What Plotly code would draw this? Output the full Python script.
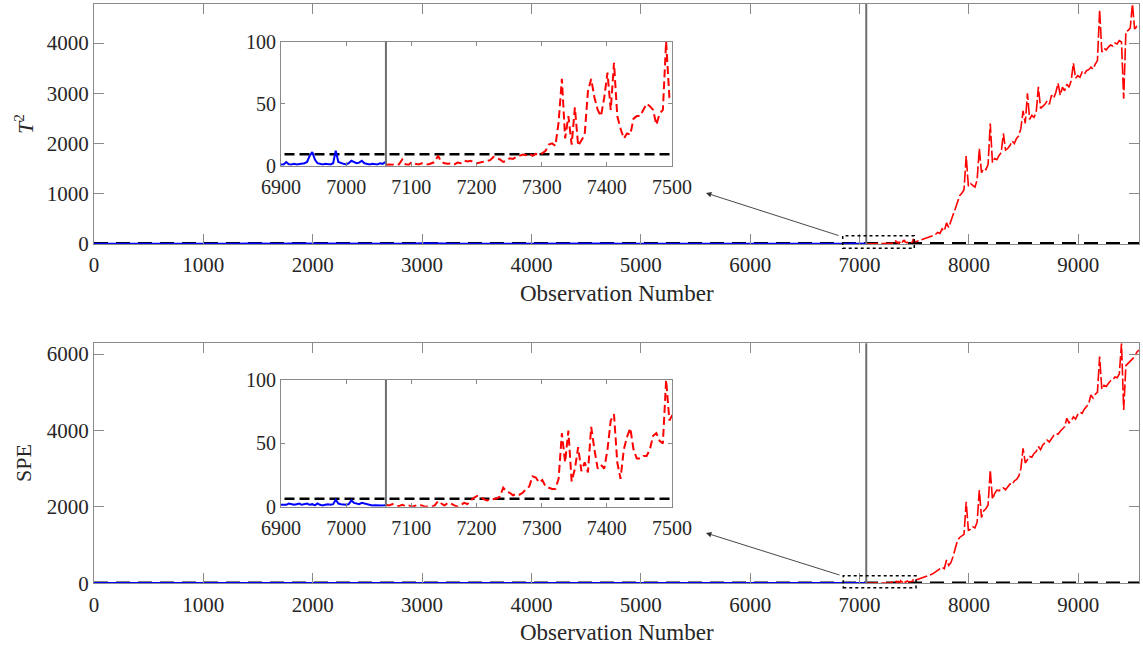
import plotly.graph_objects as go

W, H = 1143, 648

# ---------------- data ----------------
fault_start = 7061
x_max = 9555
t2_limit = 9.2
spe_limit = 6.3

# normal operation, coarse samples (0..6800 step 100)
normal_x_coarse = list(range(0, 6900, 100))
t2_normal_coarse = [2.1, 1.4, 3.2, 1.8, 0.9, 2.6, 4.1, 1.2, 1.7, 2.9,
                    1.1, 3.6, 2.2, 1.5, 6.8, 1.9, 2.4, 1.3, 3.1, 2.0,
                    1.6, 2.7, 1.0, 4.5, 1.8, 2.3, 1.4, 3.4, 2.8, 1.2,
                    9.6, 1.7, 2.5, 1.9, 3.0, 1.3, 2.2, 5.1, 1.6, 2.4,
                    1.1, 3.3, 2.0, 1.5, 2.8, 7.2, 1.8, 2.6, 1.4, 3.5,
                    2.1, 1.2, 2.9, 1.7, 4.0, 2.3, 1.5, 2.7, 1.9, 3.2,
                    1.3, 2.5, 6.1, 1.8, 2.2, 1.6, 3.0, 2.4, 1.4]
spe_normal_coarse = [1.8, 2.2, 1.5, 2.6, 1.2, 2.0, 3.1, 1.7, 2.4, 1.4,
                     2.1, 1.6, 4.2, 1.9, 2.3, 1.3, 2.8, 1.8, 2.0, 1.5,
                     2.5, 1.1, 1.9, 3.4, 2.2, 1.6, 2.7, 1.4, 2.0, 5.0,
                     1.7, 2.3, 1.5, 2.9, 1.8, 2.1, 1.3, 2.6, 1.9, 3.8,
                     1.6, 2.4, 1.2, 2.0, 2.7, 1.5, 2.2, 4.6, 1.8, 2.3,
                     1.4, 2.1, 2.8, 1.6, 1.9, 2.5, 1.3, 3.2, 2.0, 1.7,
                     2.4, 1.5, 2.2, 1.8, 3.6, 1.4, 2.1, 1.9, 1.6]

# normal operation, fine samples (6900..7060 step 4)
normal_x_fine = list(range(6900, 7061, 4))
t2_normal_fine = [1.5, 1, 3, 1.2, 1, 1.5, 1, 1.2, 1.5, 2,
                  3, 8, 11, 5, 2, 1.5, 1, 1.5, 1.2, 1,
                  2, 12, 3, 2, 1.5, 1, 2, 4, 3, 2,
                  2.5, 4, 2, 1.5, 1, 1.5, 1.2, 1, 2, 1.5,
                  3]
spe_normal_fine = [1.5, 2, 1.5, 2.5, 2, 1.5, 2, 2.5, 1.5, 2,
                   2.5, 1.5, 2, 1, 2.5, 1.5, 1, 1.5, 2, 1.5,
                   2, 5.5, 2.5, 2, 1.5, 1.5, 2, 5, 3, 2.5,
                   2, 3, 2.5, 1.5, 1.5, 1, 1.2, 1, 0.8, 1,
                   1.2]

# faulty operation, fine samples (7061..7496 step 5)
fault_x_fine = list(range(7061, 7497, 5))
t2_fault_fine = [0.5, 1, 0.8, 1.5, 1, 5, 1.2, 0.8, 3, 1.5,
                 1, 2, 1.5, 1, 2, 3, 8, 3, 2, 1.5,
                 2, 1, 2.5, 2, 4, 3.5, 4, 2.5, 2, 2.5,
                 3, 4, 4.5, 7, 6, 5, 3, 4, 6, 5.5,
                 7, 8, 9, 8.5, 10, 8, 9.5, 9,
                 10, 12, 17, 18, 16, 35, 70, 22, 40, 17,
                 47, 16, 20, 25, 60, 70, 55, 45, 40, 55,
                 75, 45, 83, 40, 30, 22, 26, 25, 38, 40,
                 40, 45, 50, 48, 45, 33, 42, 45, 100, 55]
spe_fault_fine = [1.5, 1, 2, 0.8, 0.5, 1.5, 0.5, 1, 0, 0.5,
                  1.5, 1, 0, 0.2, 0, 1, 4.5, 2.5, 1, 3,
                  2.5, 1, 0, 1.5, 3, 2, 5, 7, 8.5, 8,
                  6, 5, 5.5, 6, 6.5, 8, 15, 12, 11, 9,
                  10, 9.5, 11, 14, 16, 24, 23, 19, 21, 16,
                  15, 14, 14, 22, 58, 35, 60, 20, 30, 47,
                  28, 35, 27, 63, 45, 30, 33, 30, 45, 68,
                  73, 35, 22, 45, 55, 62, 45, 38, 38, 40,
                  40, 45, 56, 58, 52, 50, 100, 68]

# faulty operation, coarse samples (7515..9555 step 20)
fault_x_coarse = list(range(7515, 9556, 20))
t2_fault_coarse = [45, 60, 70, 85, 95, 110, 130, 150, 170, 190,
                   230, 210, 300, 260, 420, 330, 480, 580, 700, 840,
                   960, 1010, 1080, 1750, 1150, 1200, 1160, 1130, 1280, 1900,
                   1420, 1500, 1480, 1580, 2400, 1620, 1700, 1680, 1760, 1820,
                   2200, 1870, 1900, 1960, 2050, 2000, 2100, 2150, 2300, 2650,
                   2400, 3000, 2480, 2560, 2520, 2620, 3130, 2700, 2740, 2780,
                   2850, 2780, 2960, 2900, 3020, 3200, 2960, 3120, 3050, 3180,
                   3120, 3250, 3600, 3300, 3350, 3320, 3420, 3380, 3450, 3470,
                   3520, 3480, 3580, 3650, 4660, 3820, 3900, 3860, 3920, 3960,
                   3940, 4000, 3980, 4050, 4020, 2890, 4230, 4250, 4300, 4777,
                   4280, 4330, 4290]
spe_fault_coarse = [86, 100, 120, 135, 160, 175, 200, 230, 260, 300,
                    330, 360, 420, 380, 610, 470, 540, 700, 880, 1120,
                    1200, 1250, 1280, 2136, 1380, 1420, 1480, 1450, 1600, 2443,
                    1720, 1900, 1950, 2050, 2967, 2200, 2350, 2440, 2420, 2480,
                    2500, 2450, 2540, 2600, 2580, 2680, 2720, 2800, 3000, 3534,
                    3150, 3250, 3320, 3300, 3400, 3450, 3580, 3500, 3620, 3680,
                    3750, 3700, 3800, 3870, 3920, 3900, 3980, 4050, 4100, 4320,
                    4200, 4250, 4360, 4300, 4420, 4480, 4450, 4560, 4620, 4700,
                    4930, 4850, 4950, 5000, 5934, 5080, 5180, 5150, 5230, 5300,
                    5320, 5400, 5380, 5480, 6283, 4540, 5700, 5760, 5820, 5900,
                    5934, 6050, 6108]

main_xticks = [0, 1000, 2000, 3000, 4000, 5000, 6000, 7000, 8000, 9000]
t2_yticks = [0, 1000, 2000, 3000, 4000]
spe_yticks = [0, 2000, 4000, 6000]
inset_xticks = [6900, 7000, 7100, 7200, 7300, 7400, 7500]
inset_yticks = [0, 50, 100]
t2_ymax = 4777
spe_ymax = 6283

normal_x = normal_x_coarse + normal_x_fine
fault_x = fault_x_fine + fault_x_coarse
t2_normal = t2_normal_coarse + t2_normal_fine
spe_normal = spe_normal_coarse + spe_normal_fine
t2_fault = t2_fault_fine + t2_fault_coarse
spe_fault = spe_fault_fine + spe_fault_coarse

# ---------------- figure ----------------
BLUE = "#0000ff"
RED = "#ff0000"
AX = "#8a8a8a"
TXT = "#262626"
FONT = "Liberation Serif"

fig = go.Figure()


def add_panel(xa, ya, normal_vals, fault_vals, limit, inset):
    if inset:
        lim_line = dict(color="black", width=2.5, dash="10px,5px")
        blue_w, red_w, red_dash = 2, 2, "8px,4px"
    else:
        lim_line = dict(color="black", width=3, dash="14px,8px")
        blue_w, red_w, red_dash = 2.5, 1.6, "12px,3px"
    fig.add_trace(go.Scatter(x=[0, x_max], y=[limit, limit], mode="lines",
                             line=lim_line, xaxis=xa, yaxis=ya, hoverinfo="skip"))
    fig.add_trace(go.Scatter(x=normal_x, y=normal_vals, mode="lines",
                             line=dict(color=BLUE, width=blue_w), xaxis=xa, yaxis=ya))
    fig.add_trace(go.Scatter(x=fault_x, y=fault_vals, mode="lines",
                             line=dict(color=RED, width=red_w, dash=red_dash),
                             xaxis=xa, yaxis=ya))


add_panel("x", "y", t2_normal, t2_fault, t2_limit, False)
add_panel("x2", "y2", t2_normal, t2_fault, t2_limit, True)
add_panel("x3", "y3", spe_normal, spe_fault, spe_limit, False)
add_panel("x4", "y4", spe_normal, spe_fault, spe_limit, True)


def px_x(p):
    return p / W


def px_y(p):
    return 1 - p / H


common = dict(showline=True, mirror="ticks", linecolor=AX, linewidth=1,
              ticks="inside", tickcolor=AX, showgrid=False, zeroline=False,
              automargin=False, tickfont=dict(family=FONT, size=21, color=TXT))
inset_common = dict(common, ticklen=4, tickfont=dict(family=FONT, size=20, color=TXT))
main_common = dict(common, ticklen=10)

main_xdom = [px_x(94), px_x(1139)]
inset_xdom = [px_x(281), px_x(672)]

fig.update_layout(
    width=W, height=H, margin=dict(l=0, r=0, t=0, b=0, autoexpand=False),
    paper_bgcolor="white", plot_bgcolor="white", showlegend=False,
    xaxis=dict(main_common, domain=main_xdom, anchor="y", range=[0, x_max], tickvals=main_xticks,
               ticklabelstandoff=2),
    yaxis=dict(main_common, domain=[px_y(244), px_y(4)], anchor="x", range=[0, t2_ymax], tickvals=t2_yticks),
    xaxis2=dict(inset_common, domain=inset_xdom, anchor="y2", range=[6900, 7500], tickvals=inset_xticks,
                ticklabelstandoff=3),
    yaxis2=dict(inset_common, domain=[px_y(165.7), px_y(41.7)], anchor="x2", range=[0, 100], tickvals=inset_yticks),
    xaxis3=dict(main_common, domain=main_xdom, anchor="y3", range=[0, x_max], tickvals=main_xticks,
                ticklabelstandoff=2),
    yaxis3=dict(main_common, domain=[px_y(583.3), px_y(343.3)], anchor="x3", range=[0, spe_ymax], tickvals=spe_yticks),
    xaxis4=dict(inset_common, domain=inset_xdom, anchor="y4", range=[6900, 7500], tickvals=inset_xticks,
                ticklabelstandoff=3),
    yaxis4=dict(inset_common, domain=[px_y(506.7), px_y(380)], anchor="x4", range=[0, 100], tickvals=inset_yticks),
)

# fault onset vertical lines
for xr, yr in [("x", "y domain"), ("x2", "y2 domain"), ("x3", "y3 domain"), ("x4", "y4 domain")]:
    fig.add_shape(type="line", xref=xr, yref=yr, x0=fault_start, x1=fault_start, y0=0, y1=1,
                  line=dict(color="#6e6e6e", width=2), layer="above")

# dotted zoom rectangles
for (x0, x1, y0, y1) in [(842.7, 914.3, 235.7, 248.3), (843.3, 916, 575.7, 587.7)]:
    fig.add_shape(type="rect", xref="paper", yref="paper",
                  x0=px_x(x0), x1=px_x(x1), y0=px_y(y1), y1=px_y(y0),
                  line=dict(color="black", width=1.5, dash="dot"), layer="above")

# arrows
for hx, hy, tx, ty in [(706, 193, 840, 236), (706, 533, 841, 575.5)]:
    fig.add_annotation(x=px_x(hx), y=px_y(hy), xref="paper", yref="paper", text="",
                       showarrow=True, ax=tx - hx, ay=ty - hy, arrowhead=2, arrowsize=1.2,
                       arrowwidth=0.9, arrowcolor="#333333", standoff=0, startstandoff=0)

# axis titles
fig.add_annotation(x=px_x(24), y=px_y(124), xref="paper", yref="paper", showarrow=False,
                   xanchor="center", yanchor="middle",
                   text="<i>T</i><sup>2</sup>", textangle=-90,
                   font=dict(family=FONT, size=22, color=TXT))
fig.add_annotation(x=px_x(24), y=px_y(463), xref="paper", yref="paper", showarrow=False,
                   xanchor="center", yanchor="middle",
                   text="SPE", textangle=-90, font=dict(family=FONT, size=22, color=TXT))
for yc in [293, 632]:
    fig.add_annotation(x=px_x(616.5), y=px_y(yc), xref="paper", yref="paper", showarrow=False,
                       xanchor="center", yanchor="middle",
                       text="Observation Number", font=dict(family=FONT, size=23, color=TXT))

fig.write_html("out.html")
